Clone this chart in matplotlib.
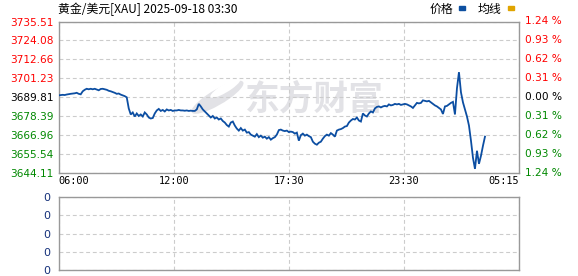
import matplotlib
matplotlib.use("Agg")
import matplotlib.pyplot as plt
import numpy as np
from matplotlib.patches import Rectangle, Ellipse

# ---------------- data ----------------
title = "黄金/美元[XAU] 2025-09-18 03:30"
prev_close = 3689.81
price_ticks = [3735.51, 3724.08, 3712.66, 3701.23, 3689.81, 3678.39, 3666.96, 3655.54, 3644.11]
pct_ticks = ["1.24", "0.93", "0.62", "0.31", "0.00", "0.31", "0.62", "0.93", "1.24"]
time_labels = ["06:00", "12:00", "17:30", "23:30", "05:15"]
session_slots = 230
volume_ticks = [0, 1, 2, 3, 4]
volume_labels = ["0", "0", "0", "0", "0"]
legend_names = ["价格", "均线"]

price = [
    3690.97, 3691.15, 3691.27, 3691.15, 3691.46, 3691.70, 3691.88, 3692.06, 3692.19, 3692.49,
    3691.88, 3691.58, 3693.40, 3694.31, 3694.92, 3694.62, 3694.92, 3694.62, 3694.92, 3694.44,
    3694.01, 3694.80, 3694.92, 3694.62, 3694.31, 3693.71, 3693.40, 3692.98, 3692.49, 3691.88,
    3692.06, 3691.40, 3690.97, 3690.48, 3689.75, 3683.07, 3679.42, 3680.63, 3678.20, 3680.03,
    3678.51, 3679.42, 3678.20, 3680.63, 3679.42, 3677.59, 3676.99, 3677.29, 3680.03, 3681.85,
    3682.76, 3681.55, 3682.15, 3681.24, 3682.46, 3681.85, 3682.15, 3681.55, 3681.85, 3681.85,
    3682.15, 3681.85, 3681.85, 3681.67, 3681.85, 3681.55, 3681.73, 3681.55, 3681.55, 3682.46,
    3685.80, 3684.28, 3682.46, 3681.24, 3680.03, 3678.81, 3677.59, 3678.51, 3676.99, 3677.59,
    3676.38, 3676.99, 3675.47, 3674.55, 3673.03, 3672.12, 3674.55, 3675.16, 3672.73, 3670.91,
    3669.69, 3671.21, 3669.69, 3670.30, 3668.47, 3668.78, 3667.26, 3666.65, 3666.04, 3667.56,
    3665.74, 3666.65, 3665.43, 3666.04, 3664.83, 3665.74, 3664.22, 3665.13, 3665.74, 3667.26,
    3669.99, 3670.30, 3669.69, 3669.39, 3669.69, 3668.78, 3669.08, 3668.78, 3667.87, 3668.47,
    3663.61, 3666.95, 3667.87, 3666.65, 3667.26, 3666.35, 3665.74, 3663.00, 3661.79, 3661.18,
    3662.39, 3663.00, 3664.83, 3666.35, 3667.26, 3666.65, 3668.17, 3667.26, 3666.04, 3669.69,
    3670.30, 3670.60, 3671.21, 3672.12, 3672.43, 3674.55, 3675.77, 3676.68, 3676.38, 3677.59,
    3675.77, 3675.16, 3680.03, 3678.81, 3678.20, 3680.03, 3681.24, 3680.63, 3683.07, 3683.98,
    3684.28, 3683.67, 3684.28, 3684.59, 3684.28, 3685.50, 3684.89, 3685.19, 3685.80, 3685.50,
    3685.80, 3685.19, 3685.50, 3685.80, 3685.50, 3684.89, 3684.28, 3683.37, 3684.89, 3686.41,
    3686.11, 3686.41, 3687.93, 3687.63, 3687.32, 3687.63, 3686.71, 3685.80, 3684.89, 3684.28,
    3683.37, 3682.46, 3679.72, 3684.28, 3684.59, 3685.50, 3686.41, 3687.02, 3679.42, 3695.23,
    3704.95, 3692.79, 3686.71, 3682.46, 3678.20, 3672.73, 3663.61, 3653.27, 3646.59, 3657.53,
    3649.63, 3654.49, 3660.57, 3666.04,
]

# ---------------- style ----------------
W, H = 578, 276
RED = "#ff0000"
GREEN = "#008800"
LINE = "#0c4ea2"
GOLD = "#e0a400"
BORDER = "#999999"
GRID = "#cccccc"
WM = "#e2e2e6"
CJK = ["Noto Sans CJK SC", "DejaVu Sans"]

fig = plt.figure(figsize=(W / 100, H / 100), dpi=100)
fig.patch.set_facecolor("white")

def px_axes(x0, y0, x1, y1):
    return fig.add_axes([x0 / W, 1 - y1 / H, (x1 - x0) / W, (y1 - y0) / H])

ax = px_axes(58.7, 21.5, 519, 173)
ax.set_xlim(0, session_slots)
ax.set_ylim(price_ticks[-1], price_ticks[0])

xgrid = np.linspace(0, session_slots, len(time_labels))

# watermark (logo + text)
ax.text(0.555, 0.49, "东方财富", transform=ax.transAxes, ha="center", va="center",
        fontsize=25, fontweight="bold", color=WM, family=CJK, zorder=0)
ax.add_patch(Ellipse((0.345, 0.50), 0.055, 0.24, angle=-25, transform=ax.transAxes,
                     facecolor=WM, edgecolor="none", zorder=0))
ax.add_patch(Ellipse((0.362, 0.56), 0.03, 0.14, angle=-25, transform=ax.transAxes,
                     facecolor="white", edgecolor="none", zorder=0))

x = np.arange(len(price))
ax.plot(x, price, color=LINE, lw=1.3, zorder=3, solid_joinstyle="miter")

ax.set_yticks(price_ticks)
ax.set_yticklabels([f"{v:.2f}" for v in price_ticks])
ax.set_xticks(xgrid)
ax.set_xticklabels(time_labels)
ax.tick_params(axis="both", length=0)
ax.tick_params(axis="y", pad=3.5, labelsize=7.6)
ax.tick_params(axis="x", pad=2.5, labelsize=7.4)
for lbl in ax.get_xticklabels():
    lbl.set_family("DejaVu Sans Mono")
xl = ax.get_xticklabels()
xl[0].set_ha("left")
xl[-1].set_ha("right")
for lbl, v in zip(ax.get_yticklabels(), price_ticks):
    lbl.set_color(RED if v > prev_close + 0.001 else (GREEN if v < prev_close - 0.001 else "black"))

for v, p in zip(price_ticks, pct_ticks):
    c = RED if v > prev_close + 0.001 else (GREEN if v < prev_close - 0.001 else "black")
    ax.text(1.014, v, p + " %", transform=ax.get_yaxis_transform(), ha="left", va="center",
            fontsize=7.6, color=c)

ax.grid(True, color=GRID, lw=0.8, linestyle=(0, (3.5, 2.5)), zorder=1)
for s in ax.spines.values():
    s.set_color(BORDER)
    s.set_linewidth(1.0)

# lower (volume) panel
ax2 = px_axes(58.7, 197, 519, 270)
ax2.set_xlim(0, session_slots)
ax2.set_ylim(volume_ticks[0], volume_ticks[-1])
ax2.set_yticks(volume_ticks)
ax2.set_yticklabels(volume_labels)
ax2.set_xticks(xgrid)
ax2.set_xticklabels([])
ax2.tick_params(axis="both", length=0)
ax2.tick_params(axis="y", pad=6, labelsize=8, labelcolor="#14307a")
ax2.grid(True, color=GRID, lw=0.8, linestyle=(0, (3.5, 2.5)), zorder=1)
for s in ax2.spines.values():
    s.set_color(BORDER)
    s.set_linewidth(1.0)

# title
fig.text(58 / W, 1 - 9 / H, title, ha="left", va="center", fontsize=8.6, family=CJK, color="black")

# legend
fig.text(430 / W, 1 - 9 / H, legend_names[0], ha="left", va="center", fontsize=8.6, family=CJK)
fig.patches.append(Rectangle((459 / W, 1 - 10 / H), 6 / W, 4 / H, transform=fig.transFigure,
                             color="#0d4fa0", figure=fig))
fig.text(478 / W, 1 - 9 / H, legend_names[1], ha="left", va="center", fontsize=8.6, family=CJK)
fig.patches.append(Rectangle((508 / W, 1 - 10 / H), 6 / W, 4 / H, transform=fig.transFigure,
                             color=GOLD, figure=fig))

fig.savefig("out.png", dpi=100, facecolor="white")
